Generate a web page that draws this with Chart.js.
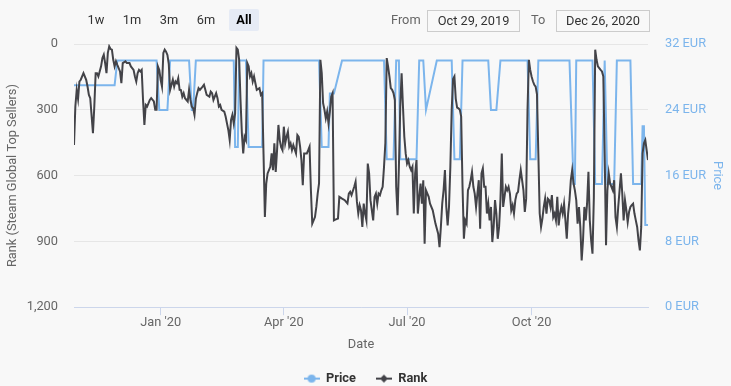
<!DOCTYPE html>
<html>
<head>
<meta charset="utf-8">
<script src="https://cdn.jsdelivr.net/npm/chart.js@4.4.1/dist/chart.umd.min.js"></script>
<style>
  html, body { margin: 0; padding: 0; background: #f8f8f8; }
  #wrap { position: relative; width: 731px; height: 386px; font-family: Roboto, sans-serif; }
  #chart { position: absolute; left: 0; top: 0; }
  .btn { position: absolute; top: 9px; width: 30px; height: 22px; line-height: 22px; text-align: center;
         font-size: 12.8px; color: #333; border-radius: 2px; }
  .btn.on { background: #e6ebf5; font-weight: bold; color: #000; }
  .lbl { position: absolute; top: 9px; height: 22px; line-height: 22px; font-size: 12.8px; color: #666; }
  .box { position: absolute; top: 10px; height: 20px; line-height: 20px; border: 1px solid #ccc;
         text-align: center; font-size: 12.8px; color: #333; box-sizing: content-box; }
</style>
</head>
<body>
<div id="wrap">
  <canvas id="chart" width="731" height="386"></canvas>
  <div class="btn" style="left:81px">1w</div>
  <div class="btn" style="left:117px">1m</div>
  <div class="btn" style="left:154px">3m</div>
  <div class="btn" style="left:191px">6m</div>
  <div class="btn on" style="left:229px">All</div>
  <div class="lbl" style="left:391px">From</div>
  <div class="box" style="left:427px;width:91px">Oct 29, 2019</div>
  <div class="lbl" style="left:531px">To</div>
  <div class="box" style="left:556px;width:92px">Dec 26, 2020</div>
</div>
<script>
// days counted from the first date of the range
const startDate = "2019-10-29";
const endDate = "2020-12-26";

const rankDays = [0,1,2,3,4,5,7,9,10,11,12,14,15,16,17,18,20,21,22,23,24,25,26,27,28,29,30,31,32,34,35,36,38,39,41,42,44,45,46,47,48,49,50,51,52,53,54,56,57,59,60,61,62,63,64,65,66,67,68,69,70,71,73,74,75,76,77,78,79,80,81,82,84,85,86,87,88,89,90,91,92,93,95,96,97,98,100,101,102,103,105,106,107,108,109,111,112,113,114,115,116,117,118,119,120,121,122,123,124,125,126,127,128,129,130,131,132,133,134,135,137,138,139,140,141,142,143,145,146,147,148,149,150,151,152,153,154,155,156,157,158,159,160,161,162,164,165,166,167,168,169,170,172,173,174,175,176,178,179,180,181,182,183,184,185,186,187,188,189,190,191,192,193,195,196,198,200,201,202,203,204,205,207,208,209,210,211,212,213,214,215,216,217,218,219,221,222,223,224,225,226,227,228,229,230,231,232,233,234,235,236,237,238,239,240,241,242,243,244,245,246,247,248,249,250,251,252,253,254,255,256,257,258,259,260,262,263,265,266,267,269,270,271,272,273,274,275,276,277,278,279,280,281,282,283,284,285,286,287,288,289,290,291,292,293,294,295,296,297,298,299,300,301,302,303,304,305,306,307,308,309,310,311,312,313,314,315,316,317,318,319,320,321,322,323,324,325,326,327,328,329,330,331,332,333,334,335,336,337,338,339,340,341,342,343,344,345,346,347,348,349,350,351,352,353,354,355,356,357,358,359,360,361,362,363,364,365,366,367,368,369,370,371,372,373,374,375,376,377,378,379,380,381,382,383,384,385,386,387,388,389,390,391,392,393,394,395,396,397,398,399,400,401,402,403,404,405,406,407,408,409,410,411,412,413,414,415,416,417,418,419,420,421,422,423,424];
const rank = [460,285,209,250,171,163,133,163,194,232,247,407,285,133,133,148,102,64,49,87,133,40,11,23,26,72,102,79,95,125,179,87,79,87,87,102,118,148,171,133,118,125,118,255,369,278,285,255,247,262,300,300,102,118,163,194,41,26,35,50,90,209,163,194,171,179,156,209,210,240,224,247,262,209,255,285,293,323,250,224,201,209,194,186,209,232,240,217,224,255,224,247,285,278,300,308,331,362,392,438,346,323,362,316,18,26,72,255,407,499,423,438,87,102,148,133,171,148,179,209,201,232,224,500,789,636,590,560,499,575,453,583,484,369,438,470,484,377,453,423,400,468,453,484,461,499,415,423,468,529,644,499,499,484,468,667,819,789,743,682,636,72,133,270,300,339,308,362,308,240,224,804,801,796,697,705,712,720,727,682,674,689,651,628,720,773,735,758,834,728,773,804,545,590,712,804,697,682,728,682,689,667,651,560,450,64,102,148,201,209,224,255,651,781,560,285,133,285,423,499,545,529,560,575,560,773,590,529,773,697,636,728,621,911,667,697,728,758,789,819,865,926,834,728,667,575,743,827,743,560,300,160,148,250,290,293,300,331,651,888,804,819,667,651,621,583,651,682,743,682,621,842,590,567,651,651,773,728,804,743,903,834,712,773,888,834,712,499,743,697,651,667,651,682,758,735,773,712,682,674,621,575,621,667,766,705,300,72,118,148,170,186,194,230,499,773,834,796,743,705,773,705,712,743,689,789,773,804,697,827,773,743,773,728,804,888,773,712,621,575,636,667,712,819,743,834,987,895,743,804,728,583,804,895,956,700,26,72,102,110,118,125,148,500,918,667,590,636,651,667,621,789,834,743,667,590,682,804,712,758,812,766,743,735,728,773,804,834,895,941,834,499,453,438,484,529];

const priceDays = [0,30,32,61,63,69,71,85,87,88,90,118,119,121,122,127,129,139,140,181,183,188,189,192,198,229,231,236,238,240,241,253,255,258,260,268,279,281,285,287,306,308,312,315,335,337,341,343,366,369,370,371,383,385,390,392,394,399,401,411,413,419,420,421,422,424];
const price = [26.99,26.99,29.99,29.99,23.99,23.99,29.99,29.99,23.99,23.99,29.99,29.99,19.49,19.49,29.99,29.99,19.49,19.49,29.99,29.99,19.49,19.49,25.99,25.99,29.99,29.99,17.99,17.99,29.99,29.99,17.99,17.99,29.99,29.99,23.99,29.99,29.99,17.99,17.99,29.99,29.99,23.99,23.99,29.99,29.99,17.99,17.99,29.99,29.99,14.99,14.99,29.99,29.99,14.99,14.99,29.99,14.99,14.99,29.99,29.99,14.99,14.99,21.99,21.99,9.99,9.99];

const tickDates = ["2020-01-01", "2020-04-01", "2020-07-01", "2020-10-01"];
const tickLabels = ["Jan '20", "Apr '20", "Jul '20", "Oct '20"];
const rankTicks = [0, 300, 600, 900, 1200];
const priceTicks = [0, 8, 16, 24, 32];

const dayOf = (s) => Math.round((Date.parse(s) - Date.parse(startDate)) / 864e5);

function legendIcon(color, shape) {
  const c = document.createElement("canvas");
  c.width = 16;
  c.height = 10;
  const g = c.getContext("2d");
  g.strokeStyle = color;
  g.fillStyle = color;
  g.lineWidth = 2;
  g.beginPath();
  g.moveTo(0, 5);
  g.lineTo(16, 5);
  g.stroke();
  g.beginPath();
  if (shape === "circle") {
    g.arc(8, 5, 4, 0, Math.PI * 2);
  } else {
    g.moveTo(8, 1); g.lineTo(12, 5); g.lineTo(8, 9); g.lineTo(4, 5); g.closePath();
  }
  g.fill();
  return c;
}

Chart.defaults.font.family = "Roboto";
const icons = [legendIcon("#7cb5ec", "circle"), legendIcon("#434348", "diamond")];

const ctx = document.getElementById("chart").getContext("2d");
let rankChart = new Chart(ctx, {
  type: "line",
  data: {
    datasets: [
      {
        label: "Price",
        data: priceDays.map((d, i) => ({ x: d, y: price[i] })),
        yAxisID: "y1",
        borderColor: "#7cb5ec",
        backgroundColor: "#7cb5ec",
        borderWidth: 2,
        pointRadius: 0,
        tension: 0,
        order: 2,
      },
      {
        label: "Rank",
        data: rankDays.map((d, i) => ({ x: d, y: rank[i] })),
        yAxisID: "y",
        borderColor: "#434348",
        backgroundColor: "#434348",
        borderWidth: 2,
        pointRadius: 0,
        tension: 0,
        order: 1,
      },
    ],
  },
  options: {
    responsive: false,
    animation: false,
    layout: { padding: { top: 44, left: 0, right: 0, bottom: -9 } },
    plugins: {
      tooltip: { enabled: false },
      legend: {
        position: "bottom",
        labels: {
          usePointStyle: true,
          pointStyleWidth: 16,
          padding: 20,
          color: "#333",
          font: { size: 12.8, weight: "bold" },
          sort: (a, b) => a.datasetIndex - b.datasetIndex,
          generateLabels: (chart) =>
            chart.data.datasets.map((ds, i) => ({
              text: ds.label,
              pointStyle: icons[i],
              fillStyle: ds.borderColor,
              strokeStyle: ds.borderColor,
              lineWidth: 0,
              hidden: false,
              datasetIndex: i,
              fontColor: "#333",
            })),
        },
      },
    },
    scales: {
      x: {
        type: "linear",
        min: 0,
        max: dayOf(endDate),
        afterBuildTicks: (s) => { s.ticks = tickDates.map((d) => ({ value: dayOf(d) })); },
        afterFit: (s) => { s.height = 45; },
        ticks: {
          color: "#666",
          padding: 0,
          maxRotation: 0,
          font: { size: 12.8 },
          callback: (v, i) => tickLabels[i],
        },
        grid: { drawOnChartArea: false, drawTicks: true, tickLength: 8, color: "#ccd6eb" },
        border: { color: "#ccd6eb" },
        title: { display: true, text: "Date", color: "#666", font: { size: 12.8 }, padding: { top: 4, bottom: 0 } },
      },
      y: {
        position: "left",
        reverse: true,
        min: 0,
        max: 1200,
        afterBuildTicks: (s) => { s.ticks = rankTicks.map((v) => ({ value: v })); },
        afterFit: (s) => { s.width = 74; },
        ticks: {
          color: "#666",
          padding: 16,
          font: { size: 12.8 },
          callback: (v) => v.toLocaleString("en-US"),
        },
        grid: { color: "#e6e6e6", drawTicks: false },
        border: { display: false },
        title: {
          display: true,
          text: "Rank (Steam Global Top Sellers)",
          color: "#666",
          font: { size: 12.8 },
          padding: { top: 5, bottom: 0 },
        },
      },
      y1: {
        position: "right",
        min: 0,
        max: 32,
        afterBuildTicks: (s) => { s.ticks = priceTicks.map((v) => ({ value: v })); },
        afterFit: (s) => { s.width = 83; },
        ticks: {
          color: "#7cb5ec",
          padding: 17,
          font: { size: 12.8 },
          callback: (v) => v + " EUR",
        },
        grid: { drawOnChartArea: false, drawTicks: false },
        border: { display: false },
        title: {
          display: true,
          text: "Price",
          color: "#7cb5ec",
          font: { size: 12.8 },
          padding: { top: 6, bottom: 0 },
        },
      },
    },
  },
});
</script>
</body>
</html>
